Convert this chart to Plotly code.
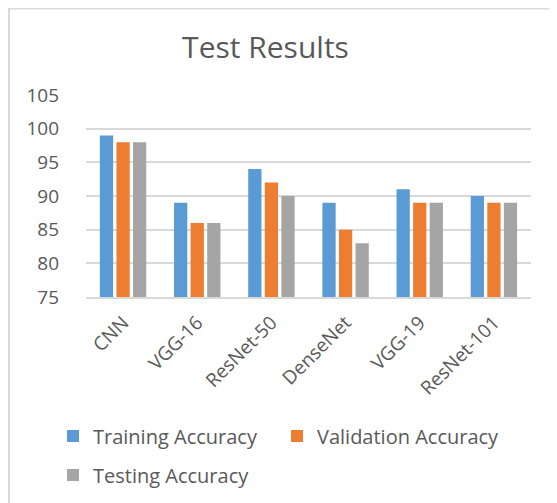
import plotly.graph_objects as go

categories = ["CNN", "VGG-16", "ResNet-50", "DenseNet", "VGG-19", "ResNet-101"]
training = [99, 89, 94, 89, 91, 90]
validation = [98, 86, 92, 85, 89, 89]
testing = [98, 86, 90, 83, 89, 89]
series_names = ["Training Accuracy", "Validation Accuracy", "Testing Accuracy"]
colors = ["#5B9BD5", "#ED7D31", "#A5A5A5"]

# figure coordinates (page body adds an 8px offset)
W, H = 557, 503
L, R, T, B = 78, 557 - 523, 87, 503 - 289
pw, ph = W - L - R, H - T - B

legend_keys = ["legend", "legend2", "legend3"]
legend_pos = [(45, 428), (269, 428), (45, 467)]

fig = go.Figure()
for name, vals, c, lk in zip(series_names, [training, validation, testing], colors, legend_keys):
    fig.add_trace(go.Bar(x=categories, y=vals, name=name, legend=lk,
                         marker=dict(color=c, line=dict(width=0))))

def px_to_paper_x(px):
    return (px - L) / pw

def px_to_paper_y(py):
    return (H - B - py) / ph

legend_font = dict(size=20, color="#595959", family="Open Sans, sans-serif")
leg_layout = {}
for lk, (lx, ly) in zip(legend_keys, legend_pos):
    leg_layout[lk] = dict(orientation="h", xref="container", yref="container",
                          x=lx / W, xanchor="left", y=(H - ly) / H, yanchor="middle",
                          font=legend_font, bgcolor="rgba(0,0,0,0)")

fig.update_layout(
    width=W, height=H,
    margin=dict(l=L, r=R, t=T, b=B, autoexpand=False),
    paper_bgcolor="white", plot_bgcolor="white",
    font=dict(family="Open Sans, sans-serif", color="#595959", size=19),
    title=dict(text="Test Results", x=257.5 / W, xref="container", xanchor="center",
               y=(H - 39) / H, yref="container", yanchor="middle",
               font=dict(size=30, color="#595959")),
    barmode="group", bargap=0.33, bargroupgap=0.2,
    showlegend=True,
    shapes=[dict(type="rect", xref="paper", yref="paper",
                 x0=px_to_paper_x(1), x1=px_to_paper_x(W + 20),
                 y0=px_to_paper_y(H + 20), y1=px_to_paper_y(0.5),
                 line=dict(color="#D9D9D9", width=2), fillcolor="rgba(0,0,0,0)", layer="below")],
    **leg_layout,
)
fig.update_yaxes(range=[75, 105], dtick=5, showgrid=True, gridcolor="#D9D9D9", gridwidth=2,
                 zeroline=False, showline=False, ticks="", ticklabelstandoff=26,
                 tickfont=dict(size=19, color="#595959"))
fig.update_xaxes(showline=True, linecolor="#D9D9D9", linewidth=2, ticks="", tickangle=-45,
                 ticklabelstandoff=5, tickfont=dict(size=19, color="#595959"))

fig.write_html("out.html")
